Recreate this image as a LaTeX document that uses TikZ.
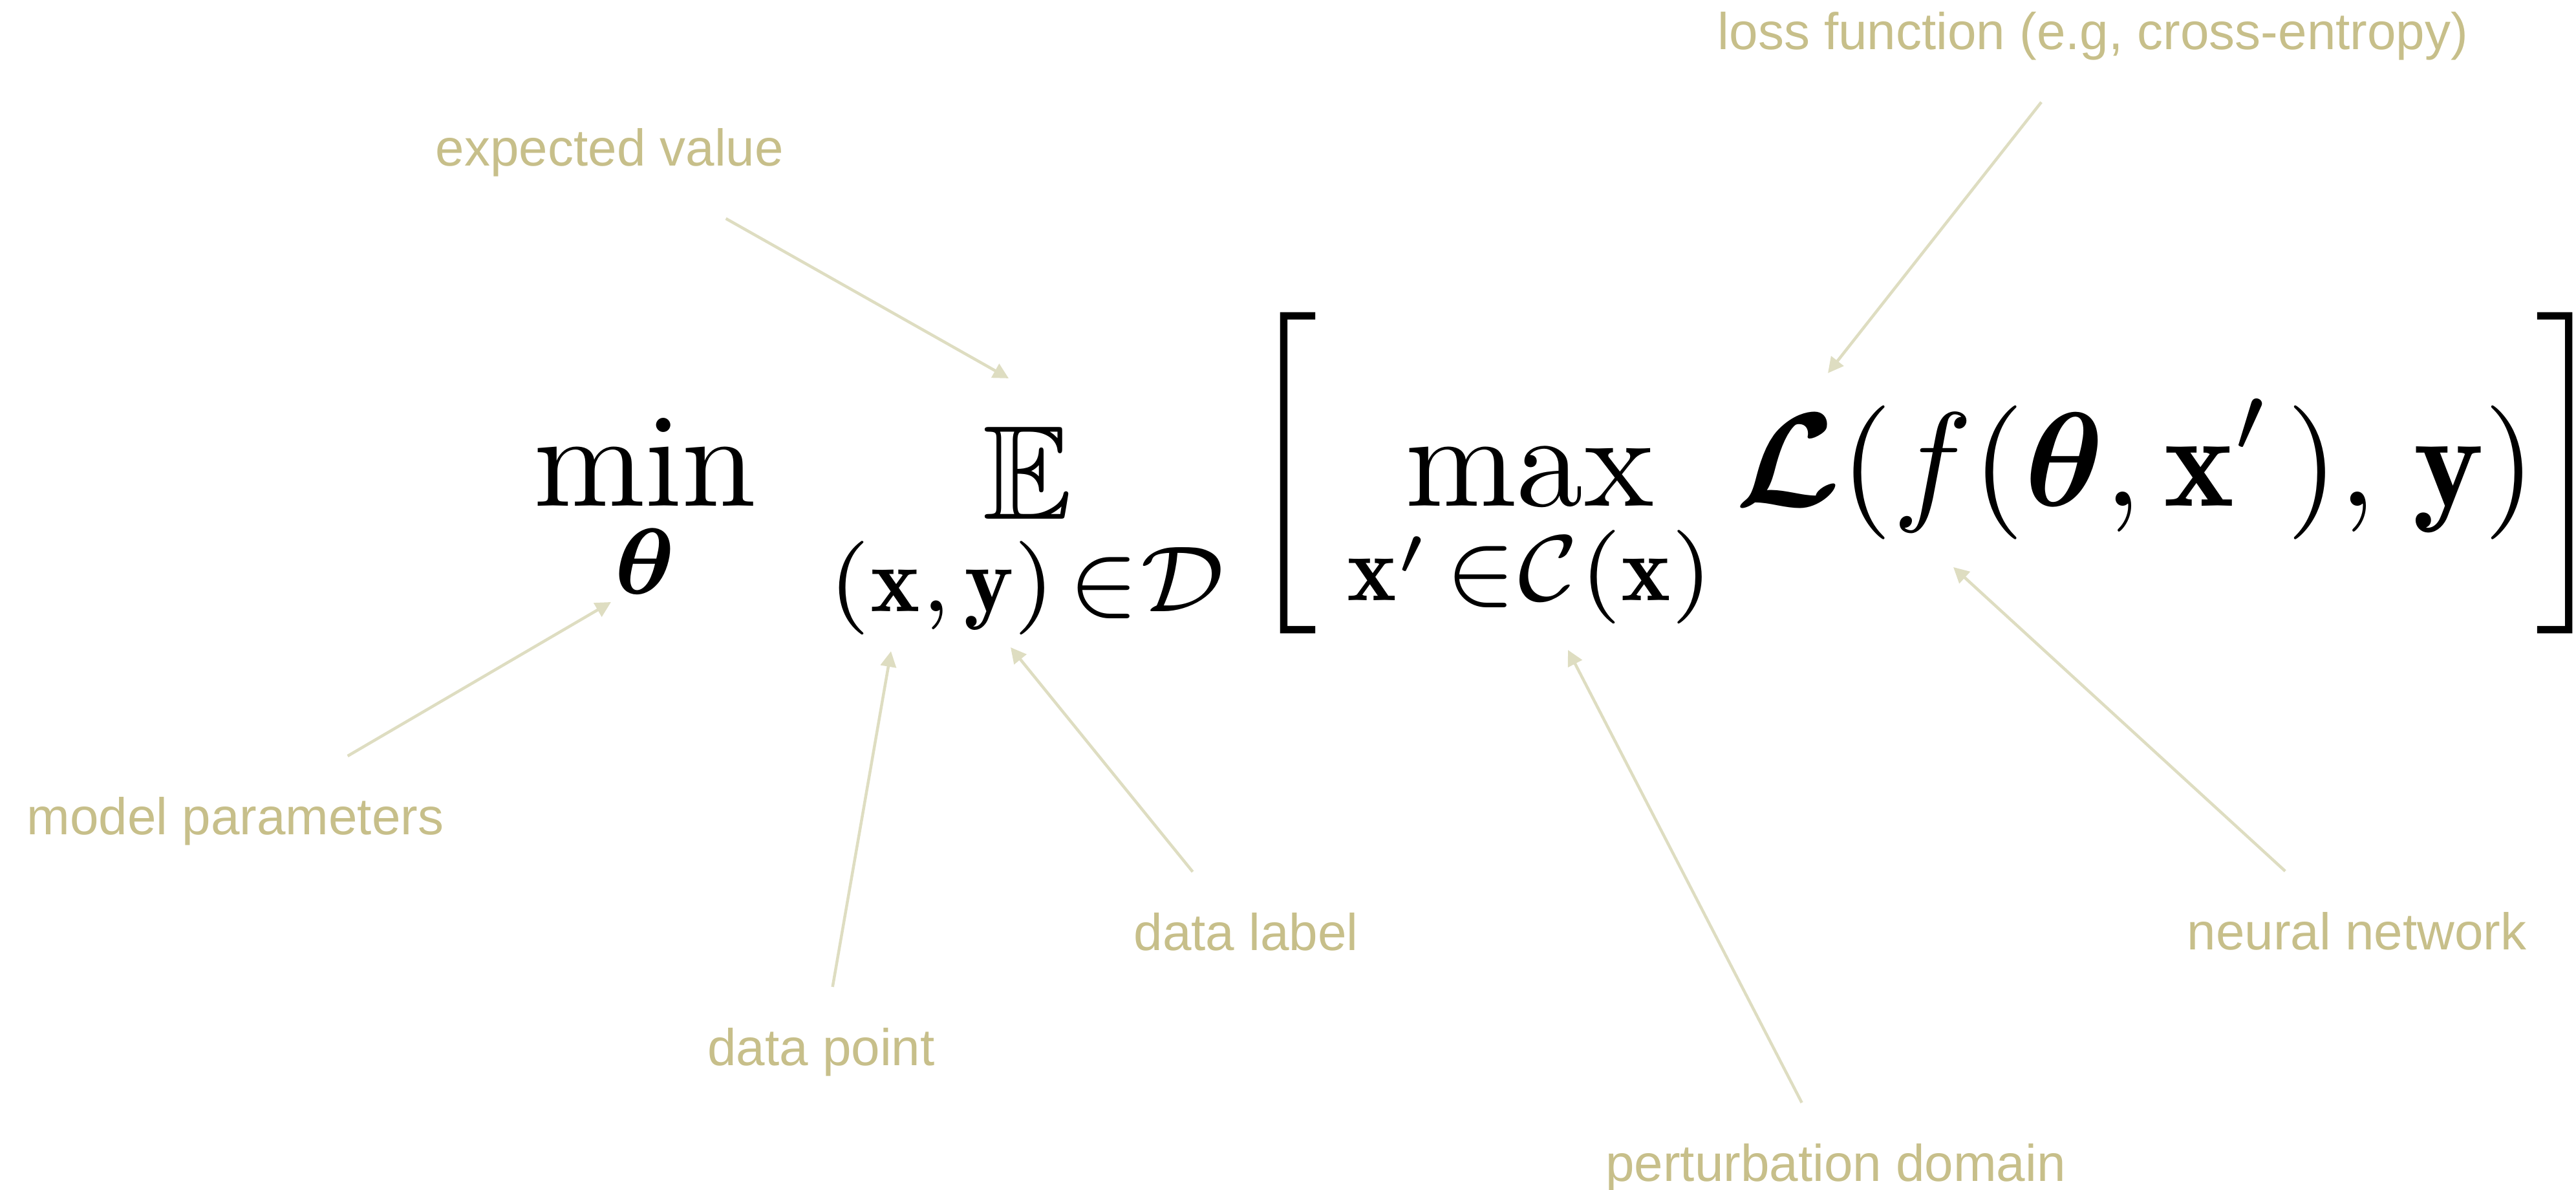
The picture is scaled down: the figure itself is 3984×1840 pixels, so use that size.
\documentclass[tikz,border=0pt]{standalone}
\usepackage{amsmath,amssymb,bm}
\usepackage{fontspec}
\newfontfamily\notefont{Liberation Sans}
\usepackage{tikz}
\usetikzlibrary{arrows.meta}

\definecolor{notetext}{HTML}{C7BF8A}
\definecolor{noteline}{HTML}{DEDDC1}
\newcommand{\bigmath}[1]{\scalebox{2.07}{$\displaystyle #1$}}

\begin{document}
\begin{tikzpicture}[x=0.1pt, y=-0.1pt,
  formula/.style={inner sep=0pt, anchor=base west, font=\fontsize{10}{12}\selectfont},
  note/.style={anchor=base, inner xsep=0pt, inner ysep=6.2pt, text height=5.8pt, text depth=1.7pt,
    text=notetext, font=\notefont\fontsize{8}{9.6}\selectfont},
  pointer/.style={draw=noteline, line width=0.45pt, -{Triangle[length=2.4pt, width=2.4pt]}}
]
\useasboundingbox (0,0) rectangle (3984,1840);

% the objective
\node[formula] (minop) at (823,783) {\bigmath{\min_{\boldsymbol{\theta}}}};
\node[formula] (expect) at (1280,783)
  {\bigmath{\mathop{\mathbb{E}}_{(\mathbf{x},\mkern2mu\mathbf{y})\mkern2mu\in\mathcal{D}}}};
\node[formula] (inner) at (1926,783)
  {\bigmath{\left[\mkern4mu\max_{\mathbf{x}'\mkern2mu\in\mathcal{C}(\mathbf{x})}
   \boldsymbol{\mathcal{L}}(f(\boldsymbol{\theta},\mathbf{x}'\mkern2mu),\mkern2mu\mathbf{y})\right]}};

% annotations
\node[note] (expval) at (943,257) {expected value};
\node[note] (lossfn) at (3237,77) {loss function (e.g, cross-entropy)};
\node[note] (mparam) at (364,1291) {model parameters};
\node[note] (dpoint) at (1270,1648) {data point};
\node[note] (dlabel) at (1927,1470) {data label};
\node[note] (pdomain) at (2839,1827) {perturbation domain};
\node[note] (nnet) at (3645,1469) {neural network};

% arrow tips
\coordinate (tipE) at (1560,585);
\coordinate (tipL) at (2827,577);
\coordinate (tipTheta) at (945,931);
\coordinate (tipX) at (1378,1007);
\coordinate (tipY) at (1563,1001);
\coordinate (tipC) at (2425,1005);
\coordinate (tipF) at (3021,877);

\draw[pointer] (expval) -- (tipE);
\draw[pointer] (lossfn) -- (tipL);
\draw[pointer] (mparam) -- (tipTheta);
\draw[pointer] (dpoint) -- (tipX);
\draw[pointer] (dlabel) -- (tipY);
\draw[pointer] (pdomain) -- (tipC);
\draw[pointer] (nnet) -- (tipF);
\end{tikzpicture}
\end{document}
